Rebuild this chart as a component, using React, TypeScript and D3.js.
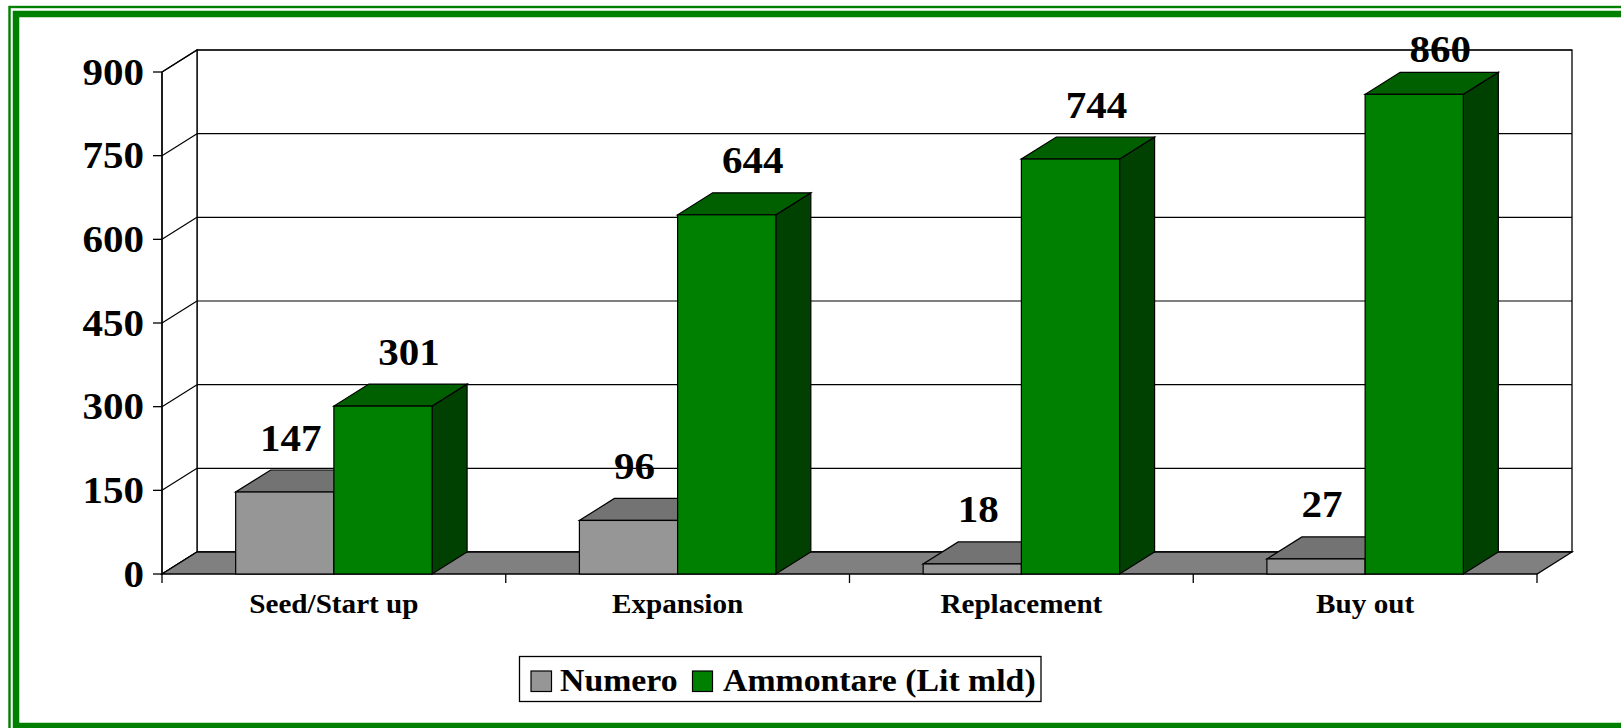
import React from "react";
import * as d3 from "d3";

// chart data
const categories = ["Seed/Start up", "Expansion", "Replacement", "Buy out"];
const seriesNames = ["Numero", "Ammontare (Lit mld)"];
const numero = [147, 96, 18, 27];
const ammontare = [301, 644, 744, 860];
const yTicks = [0, 150, 300, 450, 600, 750, 900];

const W = 1621;
const H = 728;
const DX = 35; // 3d depth
const DY = -22;
const FONT = "'Liberation Serif', 'Times New Roman', serif";

// face colors per series: front, top, side
const colors = [
  { front: "#969696", top: "#737373", side: "#4b4b4b" },
  { front: "#008000", top: "#006000", side: "#004000" },
];
const labelShift = [6, 26];

// text stretched a bit horizontally, like the original rendering
function Txt({ x, y, size, anchor = "start", sx = 1.08, children }: any) {
  return (
    <text transform={`translate(${x},${y}) scale(${sx},1)`} textAnchor={anchor} fontSize={size}>
      {children}
    </text>
  );
}

export default function App() {
  const x = d3.scaleBand().domain(categories).range([162, 1537]);
  const inner = d3
    .scaleBand()
    .domain(seriesNames)
    .range([0, x.bandwidth()])
    .paddingInner(0)
    .paddingOuter(0.75);
  const y = d3.scaleLinear().domain([0, 900]).range([574, 72]);

  const x0 = x.range()[0];
  const x1 = x.range()[1];
  const yBot = y(0);
  const yTop = y(900);
  const values = [numero, ammontare];
  const bw = inner.bandwidth();

  const pts = (p: number[][]) => p.map((d) => d.join(",")).join(" ");

  return (
    <svg
      width={W}
      height={H}
      style={{ position: "absolute", left: 0, top: 0, display: "block" }}
      fontFamily={FONT}
      fontWeight="bold"
    >
      <rect width={W} height={H} fill="#fff" />

      {/* back wall */}
      <rect
        x={x0 + DX}
        y={yTop + DY}
        width={x1 - x0}
        height={yBot - yTop}
        fill="#fff"
        stroke="#000"
        strokeWidth={1.3}
      />
      {/* left wall */}
      <polygon
        points={pts([
          [x0, yBot],
          [x0, yTop],
          [x0 + DX, yTop + DY],
          [x0 + DX, yBot + DY],
        ])}
        fill="#fff"
        stroke="#000"
        strokeWidth={1.3}
      />
      {/* gridlines */}
      {yTicks.map((t) => (
        <g key={t}>
          <line x1={x0 + DX} x2={x1 + DX} y1={y(t) + DY} y2={y(t) + DY} stroke="#000" strokeWidth={1.2} />
          <line x1={x0} x2={x0 + DX} y1={y(t)} y2={y(t) + DY} stroke="#000" strokeWidth={1.2} />
          <line x1={x0 - 9} x2={x0} y1={y(t)} y2={y(t)} stroke="#000" strokeWidth={1.3} />
          <Txt x={x0 - 18} y={y(t) + 12.5} anchor="end" size={38}>
            {t}
          </Txt>
        </g>
      ))}
      {/* floor */}
      <polygon
        points={pts([
          [x0, yBot],
          [x1, yBot],
          [x1 + DX, yBot + DY],
          [x0 + DX, yBot + DY],
        ])}
        fill="#808080"
        stroke="#000"
        strokeWidth={1.3}
      />
      <line x1={x0} x2={x0} y1={yTop} y2={yBot} stroke="#000" strokeWidth={1.3} />

      {/* bars */}
      {categories.map((c, ci) => (
        <g key={c}>
          {seriesNames.map((s, si) => {
            const v = values[si][ci];
            const bx = (x(c) as number) + (inner(s) as number);
            const yv = y(v);
            const col = colors[si];
            return (
              <g key={s}>
                <polygon
                  points={pts([
                    [bx + bw, yv],
                    [bx + bw + DX, yv + DY],
                    [bx + bw + DX, yBot + DY],
                    [bx + bw, yBot],
                  ])}
                  fill={col.side}
                  stroke="#000"
                  strokeWidth={1.2}
                />
                <polygon
                  points={pts([
                    [bx, yv],
                    [bx + bw, yv],
                    [bx + bw + DX, yv + DY],
                    [bx + DX, yv + DY],
                  ])}
                  fill={col.top}
                  stroke="#000"
                  strokeWidth={1.2}
                />
                <rect x={bx} y={yv} width={bw} height={yBot - yv} fill={col.front} stroke="#000" strokeWidth={1.2} />
              </g>
            );
          })}
        </g>
      ))}

      {/* value labels */}
      {categories.map((c, ci) =>
        seriesNames.map((s, si) => {
          const v = values[si][ci];
          const bx = (x(c) as number) + (inner(s) as number);
          const cy = Math.max(49, y(v) + DY - 32);
          return (
            <Txt key={c + s} x={bx + bw / 2 + labelShift[si]} y={cy + 12.5} anchor="middle" size={38}>
              {v}
            </Txt>
          );
        })
      )}

      {/* category axis */}
      {d3.range(categories.length + 1).map((i) => {
        const tx = x0 + i * x.step();
        return <line key={i} x1={tx} x2={tx} y1={yBot} y2={yBot + 9} stroke="#000" strokeWidth={1.3} />;
      })}
      {categories.map((c) => (
        <Txt key={c} x={(x(c) as number) + x.bandwidth() / 2} y={613} anchor="middle" size={27}>
          {c}
        </Txt>
      ))}

      {/* legend */}
      <rect x={519.5} y={656.5} width={521.5} height={45} fill="#fff" stroke="#000" strokeWidth={1.3} />
      <rect x={531} y={671} width={20.5} height={20.5} fill={colors[0].front} stroke="#000" strokeWidth={1.2} />
      <Txt x={560} y={691} size={31} sx={1.09}>
        {seriesNames[0]}
      </Txt>
      <rect x={692.5} y={671} width={20} height={20.5} fill={colors[1].front} stroke="#000" strokeWidth={1.2} />
      <Txt x={723} y={691} size={31} sx={1.09}>
        {seriesNames[1]}
      </Txt>

      {/* frame */}
      <rect x={9.5} y={7} width={1640} height={740} fill="none" stroke="#008000" strokeWidth={2.4} />
      <rect x={16} y={14} width={1630} height={712} fill="none" stroke="#008000" strokeWidth={6.5} />
    </svg>
  );
}
